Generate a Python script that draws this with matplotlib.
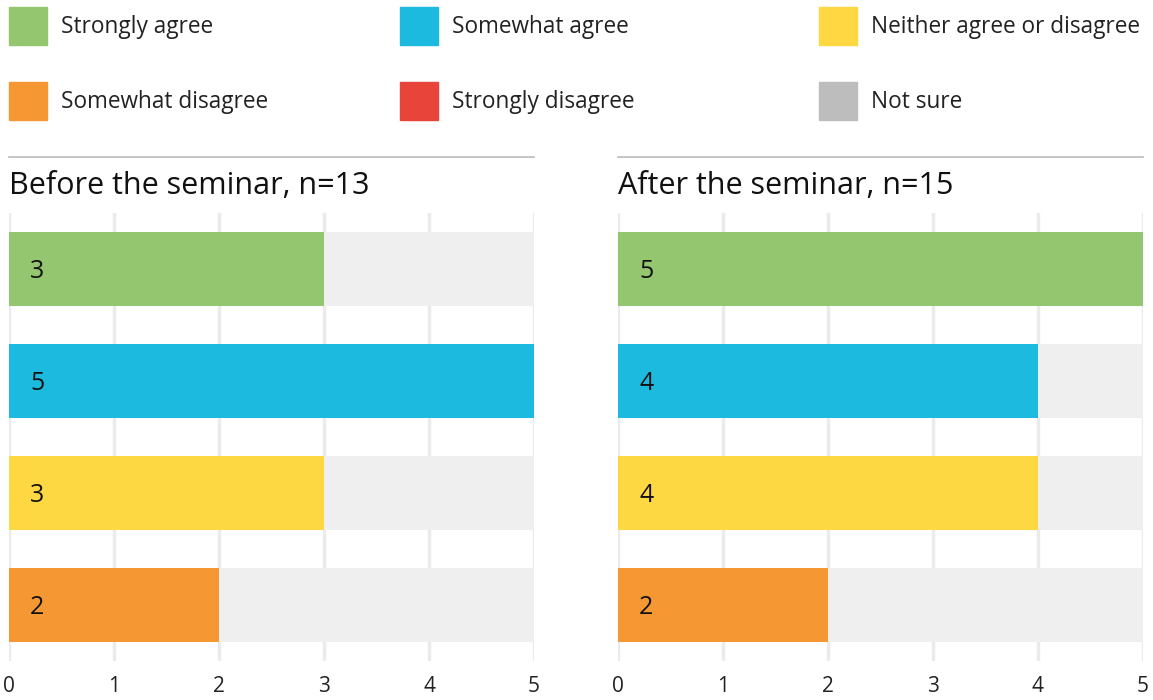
import matplotlib
matplotlib.use("Agg")
from matplotlib import pyplot
from matplotlib.patches import Rectangle

pyplot.rcParams["font.family"] = ["Open Sans", "DejaVu Sans"]

W, H = 1153, 700

categories = ["Strongly agree", "Somewhat agree", "Neither agree or disagree",
              "Somewhat disagree", "Strongly disagree", "Not sure"]
colors = ["#93c66e", "#1dbae0", "#fed843", "#f59833", "#e8443a", "#bdbdbd"]

panel_titles = ["Before the seminar, n=13", "After the seminar, n=15"]
before_values = [3, 5, 3, 2]
after_values = [5, 4, 4, 2]
x_ticks = [0, 1, 2, 3, 4, 5]
x_max = 5

BG_BAR = "#efefef"
GRID = "#ebebeb"

fig = pyplot.figure(figsize=(W / 100, H / 100), dpi=100)


def px_axes(x0, y0, x1, y1):
    return fig.add_axes([x0 / W, 1 - y1 / H, (x1 - x0) / W, (y1 - y0) / H])


# legend: 2 rows x 3 columns
leg_cols = [9, 400, 819]
leg_rows = [7, 82]
for i, (cat, col) in enumerate(zip(categories, colors)):
    r, c = divmod(i, 3)
    x, y = leg_cols[c], leg_rows[r]
    fig.patches.append(Rectangle((x / W, 1 - (y + 38) / H), 38 / W, 38 / H,
                                 transform=fig.transFigure, color=col))
    fig.text((x + 52) / W, 1 - (y + 20) / H, cat, fontsize=16.3,
             va="center", ha="left", color="#222222")

panels = [(9, 534, before_values), (618, 1143, after_values)]
for (x0, x1, vals), title in zip(panels, panel_titles):
    ax = px_axes(x0, 213, x1, 661)
    n = len(vals)
    ypos = list(range(n))
    ax.barh(ypos, [x_max] * n, height=0.66, color=BG_BAR, zorder=1)
    ax.barh(ypos, vals, height=0.66, color=colors[:n], zorder=2)
    for yi, v in zip(ypos, vals):
        ax.text(0.2, yi, str(v), fontsize=18, va="center_baseline", ha="left",
                color="#111111", zorder=3)
    ax.set_xlim(0, x_max)
    ax.set_ylim(n - 0.5, -0.5)
    ax.set_xticks(x_ticks)
    ax.set_yticks([])
    ax.grid(axis="x", color=GRID, linewidth=2.5, zorder=0)
    ax.set_axisbelow(True)
    ax.tick_params(axis="x", length=0, pad=11, labelsize=15, colors="#222222")
    for s in ax.spines.values():
        s.set_visible(False)
    # rule + title above panel
    fig.add_artist(pyplot.Line2D([x0 / W, x1 / W], [1 - 157 / H, 1 - 157 / H],
                                 transform=fig.transFigure, color="#bbbbbb",
                                 linewidth=1.2))
    fig.text(x0 / W, 1 - 186 / H, title, fontsize=22, va="center", ha="left",
             color="#111111")

fig.savefig("out.png", dpi=100)
